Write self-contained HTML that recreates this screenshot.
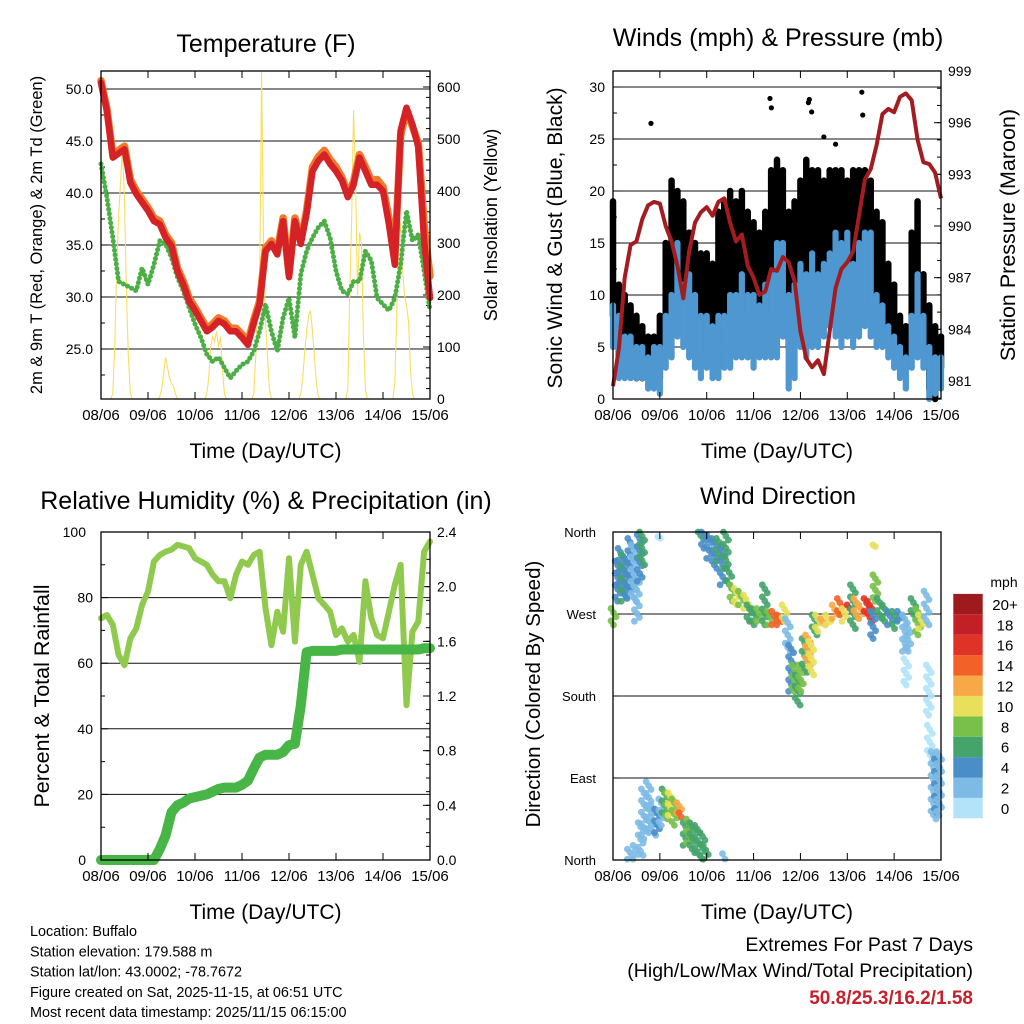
<!DOCTYPE html>
<html>
<head>
<meta charset="utf-8">
<style>
  html,body{margin:0;padding:0;background:#fff;}
  svg{display:block;font-family:"Liberation Sans",Arial,sans-serif;}
</style>
</head>
<body>
<svg id="chart" width="1024" height="1024" viewBox="0 0 1024 1024" xmlns="http://www.w3.org/2000/svg">
  <rect x="0" y="0" width="1024" height="1024" fill="#fff"/>
</svg>
<script>
// ---------------- DATA (3-hour steps, 57 points over 7 days) ----------------
const xTickLabels = ["08/06","09/06","10/06","11/06","12/06","13/06","14/06","15/06"];
const tempRed = [50.6,47.9,43.4,43.8,44.2,41,39.9,39.1,38.3,37.3,37,35.7,34.9,32.5,31.2,29.6,28.7,27.7,26.7,27.1,27.7,27.4,26.7,26.7,26.1,25.4,27.5,29.3,34.4,35.1,34.1,37.3,31.9,37.3,35.1,38,42.1,43.1,43.7,42.8,42.1,41.2,39.6,40.8,43.4,42.1,40.8,40.8,40.2,37,33.1,46,48.2,46.6,44.4,35.4,29.9];
const tempOrange = [50.8,48.1,43.7,44.1,44.5,41.3,40.2,39.4,38.6,37.6,37.3,36,35.2,32.8,31.5,29.9,29,28,27,27.4,28,27.7,27,27,26.4,25.7,27.8,29.6,34.7,35.4,34.4,37.6,32.2,37.6,35.4,38.3,42.5,43.5,44.1,43.2,42.5,41.5,39.9,41.1,43.7,42.5,41.2,41.3,40.6,37.6,34,45.5,48,46.4,44.8,37,32];
const dewGreen = [42.8,39.6,35.7,31.5,31.2,30.9,30.6,32.8,31.2,33.1,35.4,35.1,33.8,31.9,30.6,29,27.4,26.1,24.5,23.8,24.2,23.2,22.2,22.9,23.5,23.8,24.8,26.7,29.3,26.7,24.8,28,29.9,26.1,32.2,34.4,35.7,36.7,37.3,35.7,32.5,30.6,30.3,31.5,31.5,34.4,33.5,29.9,29.3,28.7,29.9,33.1,38.3,35.4,36,32.5,28.7];
const solarHourStart = 6;
const solarDay0 = [10,100,250,350,420,480,380,200,80,10];
const solarDay1 = [5,20,50,80,60,40,30,25,10,0];
const solarDay2 = [10,40,100,120,110,130,100,120,60,10];
const solarDay3 = [10,80,180,190,630,300,150,80,20,0];
const solarDay4 = [10,40,90,130,160,170,130,80,30,5];
const solarDay5 = [20,200,350,555,420,200,320,300,120,20];
const solarDay6 = [30,160,300,340,250,200,180,150,60,10];

const pressure = [980.7,982.9,987,988.9,989.1,990.4,991.2,991.4,991.3,990,989.1,987.7,985.8,988.5,990.2,990.8,991.1,990.6,991.4,991.6,990.2,989.1,989.5,987.7,987,986,986.2,987.5,987.4,988.2,987.9,986.8,983.9,982.3,981.8,982.2,981.4,983.9,986.4,987.5,987.9,988.5,990.6,992.7,993.3,994.7,996.5,996.8,996.6,997.5,997.7,997.3,995,993.7,993.6,993.1,991.6];
const windMin = [5,2,2,2,2,2,1,1,0.5,3,4,6,5,4,3,2,3,2,2,3,3,4,4,4,3,4,4,4,4,6,1,2,5,4,5,5,6,7,6,5,6,5,6,7,6,5,5,4,3,2,1,3,4,3,0,0.5,1];
const windMax = [9,8,6,6,5,5,4,5,5,8,10,15,11,12,10,8,8,7,8,8,10,10,12,10,10,9,11,12,15,15,10,11,13,12,14,12,13,14,16,15,16,13,15,16,16,10,9,7,6,5,4,8,12,8,5,4,4];
const gustMin = [8,4,4,3,2,2,2,3,2,5,9,12,7,6,5,4,5,5,6,7,8,9,8,8,8,7,8,9,10,11,5,7,9,10,12,11,12,12,12,12,11,12,10,11,9,8,8,6,5,3,3,7,9,4,1,0,3];
const gustMax = [19,11,10,9,8,7,6,6,8,15,21,20,19,16,15,14,14,13,18,19,20,19,20,18,17,16,18,22,23,22,18,19,21,23,22,22,21,22,22,22,21,22,22,22,21,18,17,13,11,8,7,16,19,12,9,7,6];
const gustOutT = [0.81,3.35,3.38,4.17,4.19,4.24,5.31,5.33,4.75,4.5];
const gustOutV = [26.5,28.9,28,28.5,28.8,27.6,29.5,27.3,24.5,25.2];

const rhValues = [73.7,74.7,71.7,62.5,59.4,67.6,70.6,77.8,81.9,91,93,94,94.6,96.1,95.6,95.1,92,91,90,87,85,85,79.8,87,91,90,93,94,76.8,65.5,75.7,69.6,92,66.6,90,94,87,79.8,77.8,75.7,68.6,70.6,66.6,68.6,60.4,85,73.7,68.6,67.6,75.7,83.9,90,47.2,69.6,72.7,94,97.1];
const precipValues = [0,0,0,0,0,0,0,0,0,0,0.08,0.18,0.35,0.40,0.42,0.45,0.46,0.47,0.48,0.50,0.52,0.53,0.53,0.53,0.55,0.58,0.67,0.75,0.77,0.77,0.77,0.79,0.84,0.85,1.13,1.52,1.53,1.53,1.53,1.53,1.53,1.54,1.54,1.54,1.54,1.54,1.54,1.54,1.54,1.54,1.54,1.54,1.54,1.54,1.54,1.55,1.55];

const dirT  = [0.01,0.10,0.16,0.23,0.30,0.37,0.44,0.51,0.57,0.62,1.01,0.36,0.48,0.59,0.66,0.76,0.86,0.94,1.03,1.10,1.17,1.23,1.31,1.41,1.46,1.55,1.62,1.69,1.80,1.91,1.98,2.39,1.87,1.94,2.05,2.16,2.26,2.34,2.41,2.48,2.55,2.64,2.73,2.84,2.91,3.01,3.12,3.24,3.34,3.44,3.55,3.66,3.73,3.80,3.87,3.94,4.01,4.09,4.16,4.23,4.30,4.37,4.48,4.59,4.73,4.84,4.94,5.05,5.12,5.19,5.30,5.41,5.48,5.55,5.60,5.60,5.69,5.80,5.91,6.01,6.12,6.23,6.30,6.41,6.51,6.57,6.69,6.74,6.76,6.84,6.91,6.96,6.26];
const dirLo = [258,284,295,284,287,295,284,262,306,324,353,1,1,5,23,30,27,30,38,52,45,49,38,52,47,16,19,8,5,1,1,1,353,342,331,320,328,302,320,298,284,280,280,276,262,258,262,258,258,258,258,262,229,185,185,170,185,206,214,203,247,251,258,258,265,269,262,273,254,265,265,273,262,243,284,344,265,262,258,254,262,229,229,265,247,254,258,159,111,45,52,49,192];
const dirHi = [276,328,342,335,331,353,346,313,357,360,355,12,16,41,78,86,60,56,67,78,74,74,67,63,52,41,45,41,38,30,16,7,360,360,357,353,353,342,360,320,302,298,295,291,280,276,276,302,273,273,269,280,265,236,214,203,214,243,247,240,269,269,265,269,280,287,276,280,302,287,280,287,284,273,313,346,287,280,273,273,273,269,258,287,276,269,295,214,148,119,111,119,221];
const dirSpd = [9,5,4,6,4,5,3,3,5,6,0,3,2,2,2,2,2,4,3,7,9,10,8,12,15,7,9,6,7,6,7,3,7,4,5,5,6,4,6,7,9,10,9,11,7,6,9,6,8,14,15,11,2,5,9,7,9,7,12,10,7,10,12,10,13,14,10,16,7,12,13,17,16,5,8,10,6,7,5,6,4,2,3,7,9,10,3,1,1,3,4,2,1];

const speedLabels = ["0","2","4","6","8","10","12","14","16","18","20+"];
const speedColors = ["#b3e3f8","#7dbbe6","#4a8ec8","#45a46a","#78c04a","#e8e05a","#f8a947","#f26128","#e03327","#c21f26","#9e1a1d"];

// ---------------- HELPERS ----------------
const NS = "http://www.w3.org/2000/svg";
const svg = document.getElementById('chart');
function mk(tag, attrs, parent, name) {
  const e = document.createElementNS(NS, tag);
  for (const k in attrs) e.setAttribute(k, attrs[k]);
  
  
  (parent || svg).appendChild(e);
  return e;
}
function txt(x, y, s, size, anchor, name, extra) {
  const a = Object.assign({x:x, y:y, 'font-size':size, 'text-anchor':anchor||'middle', fill:'#000'}, extra||{});
  const t = mk('text', a, svg, name);
  t.textContent = s;
  return t;
}
function vtxt(x, y, s, size, name) {
  const t = mk('text', {x:0, y:0, 'font-size':size, 'text-anchor':'middle', fill:'#000', transform:`translate(${x},${y}) rotate(-90)`}, svg, name);
  t.textContent = s;
  return t;
}
const STEP = 0.125;
function makePanel(x0, x1, y0, y1) {
  return {x0, x1, y0, y1, xs: t => x0 + t / 7 * (x1 - x0)};
}
function linScale(v0, p0, v1, p1) { return v => p0 + (v - v0) * (p1 - p0) / (v1 - v0); }
function pathFrom(arr, p, ys) {
  return arr.map((v, i) => (i ? 'L' : 'M') + p.xs(i * STEP).toFixed(1) + ',' + ys(v).toFixed(1)).join(' ');
}
function drawFrame(p, name) {
  const g = mk('g', {}, svg, name + '-axes');
  xTickLabels.forEach((lab, i) => {
    const x = p.xs(i);
    mk('line', {x1:x, y1:p.y0, x2:x, y2:p.y0 + 7, stroke:'#000', 'stroke-width':1}, g, 'x-tick-top');
    mk('line', {x1:x, y1:p.y1, x2:x, y2:p.y1 - 7, stroke:'#000', 'stroke-width':1}, g, 'x-tick');
    txt(x, p.y1 + 21, lab, 15, 'middle', 'x-tick-label');
  });
  txt((p.x0 + p.x1) / 2, p.y1 + 59, 'Time (Day/UTC)', 21, 'middle', 'x-axis-title');
}
function border(p, name) {
  mk('rect', {x:p.x0, y:p.y0, width:p.x1 - p.x0, height:p.y1 - p.y0, fill:'none', stroke:'#000', 'stroke-width':1.3}, svg, name + '-border');
}
function yAxis(p, ys, vals, labels, minors, side, labName, grid) {
  const isL = side === 'left';
  const xe = isL ? p.x0 : p.x1, dir = isL ? 1 : -1;
  vals.forEach((v, i) => {
    const y = ys(v);
    if (grid) mk('line', {x1:p.x0, y1:y, x2:p.x1, y2:y, stroke:'#111', 'stroke-width':1}, svg, 'grid-line');
    mk('line', {x1:xe, y1:y, x2:xe + dir * 7, y2:y, stroke:'#000', 'stroke-width':1}, svg, side + '-tick');
    txt(isL ? xe - 8 : xe + 7, y + 5, labels[i], 14, isL ? 'end' : 'start', labName);
  });
  minors.forEach(v => {
    const y = ys(v);
    mk('line', {x1:xe, y1:y, x2:xe + dir * 4, y2:y, stroke:'#000', 'stroke-width':1}, svg, side + '-minor-tick');
  });
}
function range(a, b, s) { const r = []; for (let v = a; v <= b + 1e-9; v += s) r.push(+v.toFixed(4)); return r; }

// ---------------- PANEL 1: TEMPERATURE ----------------
const p1 = makePanel(101, 430, 71, 399);
const tY = linScale(25, 349, 50, 89);
const sY = linScale(0, 399, 600, 87);
txt(266, 52, 'Temperature (F)', 25, 'middle', 'temperature-title');
yAxis(p1, tY, [25,30,35,40,45,50], ['25.0','30.0','35.0','40.0','45.0','50.0'], [22.5,27.5,32.5,37.5,42.5,47.5], 'left', 'temp-tick-label', true);
yAxis(p1, sY, [0,100,200,300,400,500,600], ['0','100','200','300','400','500','600'], range(20,620,20), 'right', 'solar-tick-label', false);
vtxt(42, 235, '2m & 9m T (Red, Orange) & 2m Td (Green)', 16.5, 'temp-y-axis-title');
vtxt(497, 225, 'Solar Insolation (Yellow)', 18, 'solar-y-axis-title');
const solarDays = [solarDay0, solarDay1, solarDay2, solarDay3, solarDay4, solarDay5, solarDay6];
let sd = '';
solarDays.forEach((day, d) => {
  const hrs = [0].concat(day, [0]);
  hrs.forEach((v, j) => {
    const t = d + (solarHourStart - 1 + j) / 24;
    sd += (j ? 'L' : 'M') + p1.xs(t).toFixed(1) + ',' + sY(v).toFixed(1) + ' ';
  });
});
mk('path', {d:sd, fill:'none', stroke:'#f8de5e', 'stroke-width':1.1}, svg, 'solar-insolation-line');
mk('path', {d:pathFrom(dewGreen, p1, tY), fill:'none', stroke:'#4caf45', 'stroke-width':5, 'stroke-linecap':'round', 'stroke-dasharray':'0.1 4.5'}, svg, 'dewpoint-line');
mk('path', {d:pathFrom(tempOrange, p1, tY), fill:'none', stroke:'#f07a2a', 'stroke-width':7.5, 'stroke-linejoin':'round', 'stroke-linecap':'round'}, svg, 'temp-9m-line');
mk('path', {d:pathFrom(tempRed, p1, tY), fill:'none', stroke:'#d42227', 'stroke-width':6.5, 'stroke-linejoin':'round', 'stroke-linecap':'round'}, svg, 'temp-2m-line');
border(p1, 'temperature');
drawFrame(p1, 'temperature');

// ---------------- PANEL 2: WINDS & PRESSURE ----------------
const p2 = makePanel(613, 941, 71, 399);
const wY = linScale(0, 399, 30, 87);
const pY = linScale(981, 381, 999, 71);
txt(778, 46, 'Winds (mph) & Pressure (mb)', 25, 'middle', 'winds-title');
yAxis(p2, wY, [5,10,15,20,25,30], ['5','10','15','20','25','30'], [2.5,7.5,12.5,17.5,22.5,27.5], 'left', 'wind-tick-label', true);
txt(605, 404, '0', 14, 'end', 'wind-tick-label');
yAxis(p2, pY, [981,984,987,990,993,996,999], ['981','984','987','990','993','996','999'], range(980,998,1), 'right', 'pressure-tick-label', false);
vtxt(562, 238, 'Sonic Wind & Gust (Blue, Black)', 21, 'wind-y-axis-title');
vtxt(1015, 235, 'Station Pressure (Maroon)', 21.5, 'pressure-y-axis-title');
const gG = mk('g', {}, svg, 'gust-points');
gustMax.forEach((v, i) => {
  const x = p2.xs(i * STEP);
  mk('line', {x1:x, y1:wY(gustMin[i]), x2:x, y2:wY(v), stroke:'#000', 'stroke-width':6.5, 'stroke-linecap':'round'}, gG, 'gust-range');
});
gustOutT.forEach((t, i) => {
  mk('circle', {cx:p2.xs(t), cy:wY(gustOutV[i]), r:2.6, fill:'#000'}, gG, 'gust-outlier');
});
const bG = mk('g', {}, svg, 'wind-band');
windMax.forEach((v, i) => {
  const x = p2.xs(i * STEP);
  mk('line', {x1:x, y1:wY(windMin[i]), x2:x, y2:wY(v), stroke:'#4f97d0', 'stroke-width':6.2, 'stroke-linecap':'round'}, bG, 'wind-range');
});
mk('path', {d:pathFrom(pressure, p2, pY), fill:'none', stroke:'#a31c20', 'stroke-width':4, 'stroke-linejoin':'round'}, svg, 'pressure-line');
border(p2, 'winds');
drawFrame(p2, 'winds');

// ---------------- PANEL 3: RH & PRECIP ----------------
const p3 = makePanel(101, 430, 532, 860);
const rY = linScale(0, 860, 100, 532);
const qY = linScale(0, 860, 2.4, 532);
txt(266, 509, 'Relative Humidity (%) & Precipitation (in)', 25, 'middle', 'humidity-title');
yAxis(p3, rY, [20,40,60,80], ['20','40','60','80'], [10,30,50,70,90], 'left', 'rh-tick-label', true);
txt(86, 865, '0', 14, 'end', 'rh-tick-label');
txt(86, 537, '100', 14, 'end', 'rh-tick-label');
yAxis(p3, qY, [0,0.4,0.8,1.2,1.6,2.0,2.4], ['0.0','0.4','0.8','1.2','1.6','2.0','2.4'], range(0.1,2.3,0.1), 'right', 'precip-tick-label', false);
vtxt(49, 696, 'Percent & Total Rainfall', 21.5, 'rh-y-axis-title');
mk('path', {d:pathFrom(rhValues, p3, rY), fill:'none', stroke:'#8fca4f', 'stroke-width':6, 'stroke-linejoin':'round', 'stroke-linecap':'round'}, svg, 'humidity-line');
mk('path', {d:pathFrom(precipValues, p3, qY), fill:'none', stroke:'#48b547', 'stroke-width':10, 'stroke-linejoin':'round', 'stroke-linecap':'round'}, svg, 'precip-line');
border(p3, 'humidity');
drawFrame(p3, 'humidity');

// ---------------- PANEL 4: WIND DIRECTION ----------------
const p4 = makePanel(613, 941, 532, 860);
const dY = linScale(0, 860, 360, 532);
txt(778, 504, 'Wind Direction', 24, 'middle', 'wind-direction-title');
[90,180,270].forEach(d => {
  mk('line', {x1:p4.x0, y1:dY(d), x2:p4.x1, y2:dY(d), stroke:'#111', 'stroke-width':1}, svg, 'grid-line');
});
[[0,'North'],[90,'East'],[180,'South'],[270,'West'],[360,'North']].forEach(([d, lab]) => {
  mk('line', {x1:p4.x0, y1:dY(d), x2:p4.x0 + 7, y2:dY(d), stroke:'#000', 'stroke-width':1}, svg, 'left-tick');
  txt(596, dY(d) + 5, lab, 13, 'end', 'direction-tick-label');
});
vtxt(540, 694, 'Direction (Colored By Speed)', 20.5, 'direction-y-axis-title');
const dG = mk('g', {}, svg, 'direction-points');
dirT.forEach((t, i) => {
  const x = p4.xs(t);
  const c = speedColors[Math.min(10, Math.floor(dirSpd[i] / 2))];
  const y1 = dY(dirHi[i]), y2 = dY(dirLo[i]);
  const n = Math.max(1, Math.round((y2 - y1) / 4));
  for (let k = 0; k <= n; k++) {
    const y = y1 + (y2 - y1) * k / n;
    const dx = (k % 3 - 1) * 2.5;
    mk('circle', {cx:(x + dx).toFixed(1), cy:y.toFixed(1), r:3.4, fill:c, opacity:0.9}, dG, 'direction-point');
  }
});
border(p4, 'wind-direction');
drawFrame(p4, 'wind-direction');

txt(1004, 587, 'mph', 14, 'middle', 'colorbar-title');
speedColors.forEach((c, i) => {
  const y = 818.3 - (i + 1) * 20.4;
  mk('rect', {x:953.3, y:y, width:29.4, height:20.4, fill:c}, svg, 'colorbar-swatch');
  txt(1005, y + 16, speedLabels[i], 15, 'middle', 'colorbar-label');
});

// ---------------- FOOTER ----------------
const infoLines = ['Location: Buffalo','Station elevation: 179.588 m','Station lat/lon: 43.0002; -78.7672','Figure created on Sat, 2025-11-15, at 06:51 UTC','Most recent data timestamp: 2025/11/15 06:15:00'];
infoLines.forEach((s, i) => txt(30, 936 + i * 20.3, s, 14.4, 'start', 'station-info-line'));
txt(973, 951, 'Extremes For Past 7 Days', 19.5, 'end', 'extremes-title');
txt(973, 977, '(High/Low/Max Wind/Total Precipitation)', 19.5, 'end', 'extremes-subtitle');
txt(973, 1004, '50.8/25.3/16.2/1.58', 19, 'end', 'extremes-values', {fill:'#c8202a', 'font-weight':'bold'});
</script>
</body>
</html>
